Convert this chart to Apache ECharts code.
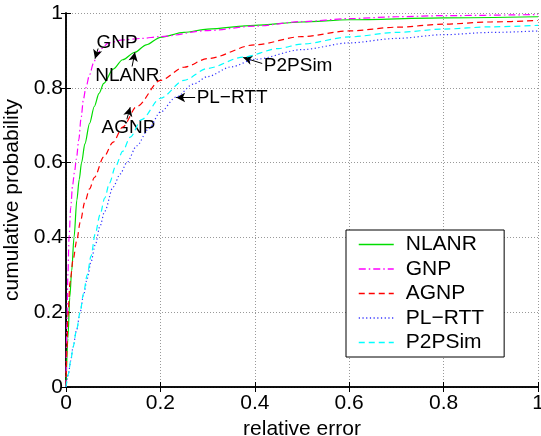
<!DOCTYPE html>
<html>
<head>
<meta charset="utf-8">
<script src="https://cdn.jsdelivr.net/npm/echarts@6/dist/echarts.min.js"></script>
<style>
html,body{margin:0;padding:0;background:#fff;}
#c{width:541px;height:436px;}
</style>
</head>
<body>
<div id="c"></div>
<script>
// ---- data ----
const seriesNames = ['NLANR', 'GNP', 'AGNP', 'PL\u2212RTT', 'P2PSim'];

const nlanrX = [0,0.004,0.008,0.012,0.017,0.023,0.028,0.033,0.04,0.05,0.06,0.07,0.08,0.1,0.12,0.146,0.17,0.2,0.25,0.3,0.4,0.5,0.6,0.8,1];
const nlanrY = [0,0.13,0.24,0.31,0.4,0.5,0.555,0.6,0.65,0.705,0.75,0.785,0.812,0.85,0.875,0.895,0.915,0.935,0.948,0.957,0.967,0.976,0.982,0.987,0.99];

const gnpX = [0,0.002,0.004,0.0065,0.01,0.014,0.018,0.022,0.027,0.032,0.037,0.042,0.05,0.058,0.065,0.075,0.09,0.12,0.16,0.2,0.3,0.4,0.5,0.6,0.7,0.8,1];
const gnpY = [0,0.17,0.3,0.4,0.48,0.54,0.575,0.61,0.66,0.72,0.77,0.8,0.835,0.865,0.885,0.905,0.92,0.928,0.932,0.937,0.953,0.965,0.977,0.985,0.99,0.993,0.996];

const agnpX = [0,0.002,0.004,0.0085,0.015,0.023,0.03,0.04,0.05,0.06,0.08,0.1,0.12,0.15,0.2,0.25,0.3,0.4,0.5,0.6,0.7,0.8,0.9,1];
const agnpY = [0,0.1,0.19,0.28,0.34,0.393,0.44,0.495,0.53,0.56,0.615,0.655,0.695,0.75,0.82,0.855,0.878,0.915,0.937,0.952,0.962,0.97,0.976,0.98];

const plrttX = [0,0.005,0.01,0.015,0.022,0.03,0.037,0.045,0.053,0.062,0.072,0.082,0.1,0.115,0.129,0.15,0.175,0.2,0.233,0.27,0.3,0.35,0.4,0.5,0.6,0.7,0.8,0.9,1];
const plrttY = [0,0.035,0.07,0.107,0.15,0.2,0.245,0.29,0.335,0.38,0.43,0.47,0.535,0.57,0.6,0.645,0.69,0.735,0.775,0.81,0.83,0.856,0.876,0.902,0.92,0.932,0.942,0.948,0.952];

const p2psimX = [0,0.005,0.01,0.015,0.022,0.03,0.037,0.045,0.053,0.062,0.072,0.082,0.092,0.105,0.12,0.136,0.16,0.2,0.25,0.3,0.375,0.45,0.5,0.6,0.7,0.8,0.9,1];
const p2psimY = [0,0.035,0.07,0.107,0.15,0.2,0.25,0.3,0.35,0.41,0.46,0.505,0.545,0.59,0.63,0.668,0.715,0.772,0.82,0.852,0.882,0.905,0.917,0.936,0.948,0.957,0.963,0.967];

const xTicks = [0, 0.2, 0.4, 0.6, 0.8, 1];
const yTicks = [0, 0.2, 0.4, 0.6, 0.8, 1];

// annotations (data-space anchors): text, arrow tail, arrow tip
const annText = ['GNP', 'NLANR', 'AGNP', 'PL\u2212RTT', 'P2PSim'];
const annLabelAt = [[0.108,0.921],[0.130,0.833],[0.1325,0.692],[0.2757,0.774],[0.418,0.86]];
const annTail = [[0.068,0.905],[0.14,0.857],[0.129,0.716],[0.2736,0.774],[0.4157,0.865]];
const annTip = [[0.0615,0.878],[0.146,0.895],[0.136,0.748],[0.2333,0.774],[0.3754,0.881]];
const annSide = ['inside','inside','inside','right','right'];

// ---- chart ----
const FONT = '"Liberation Sans", Arial, Helvetica, sans-serif';
const zip = (xs, ys) => xs.map((x, i) => [x, ys[i]]);
const seriesData = [zip(nlanrX, nlanrY), zip(gnpX, gnpY), zip(agnpX, agnpY), zip(plrttX, plrttY), zip(p2psimX, p2psimY)];
const colors = ['#00dd00', '#ff00ff', '#ff0000', '#3333ff', '#00ffff'];
const dashes = ['solid', [7, 3, 1.5, 3], [6, 4], [1.2, 2.5], [6, 4]];
const widths = [1.2, 1.2, 1.2, 1.2, 1.2];
// which series hosts which annotation
const annHost = {'GNP':1, 'NLANR':0, 'AGNP':2, 'PL\u2212RTT':3, 'P2PSim':4};

const series = seriesNames.map((name, i) => {
  const s = {
    name: name,
    type: 'line',
    data: seriesData[i],
    showSymbol: false,
    symbol: 'none',
    smooth: 0.3,
    smoothMonotone: 'x',
    color: colors[i],
    lineStyle: {color: colors[i], width: widths[i], type: dashes[i]},
    z: 3 + i,
    animation: false
  };
  const idx = annText.findIndex(t => annHost[t] === i);
  if (idx >= 0) {
    s.markLine = {
      silent: true,
      animation: false,
      symbol: ['none', 'arrow'],
      symbolSize: [7, 9],
      lineStyle: {color: '#000', width: 1, type: 'solid'},
      label: {show: false},
      emphasis: {disabled: true},
      data: [[{coord: annTail[idx]}, {coord: annTip[idx]}]]
    };
    s.markPoint = {
      silent: true,
      animation: false,
      symbol: 'circle',
      symbolSize: 1,
      itemStyle: {color: 'rgba(0,0,0,0)'},
      label: {
        show: true,
        position: annSide[idx],
        distance: 0,
        formatter: annText[idx],
        color: '#000',
        fontSize: 19,
        fontFamily: FONT
      },
      data: [{coord: annLabelAt[idx]}]
    };
  }
  return s;
});

const chart = echarts.init(document.getElementById('c'), null, {renderer: 'canvas'});
chart.setOption({
  animation: false,
  backgroundColor: '#fff',
  textStyle: {fontFamily: FONT},
  grid: {left: 66, right: 3, top: 13, bottom: 49, containLabel: false, outerBoundsMode: 'none'},
  legend: {
    data: seriesNames,
    orient: 'vertical',
    left: 346,
    top: 230,
    itemWidth: 35,
    itemHeight: 14,
    itemGap: 3.5,
    padding: [4, 20, 4, 12],
    backgroundColor: '#fff',
    borderColor: '#000',
    borderWidth: 1,
    borderRadius: 0,
    selectedMode: false,
    itemStyle: {opacity: 0, borderWidth: 0},
    lineStyle: {width: 1.5},
    textStyle: {fontSize: 21, color: '#000', fontFamily: FONT, padding: [0, 0, 0, 7]}
  },
  xAxis: [{
    type: 'value', min: xTicks[0], max: xTicks[xTicks.length - 1], interval: xTicks[1] - xTicks[0],
    position: 'bottom',
    name: 'relative error', nameLocation: 'middle', nameGap: 27,
    nameTextStyle: {fontSize: 21, color: '#000', fontFamily: FONT},
    axisLine: {show: true, lineStyle: {color: '#000', width: 1.5}},
    axisTick: {show: true, inside: true, length: 5, lineStyle: {color: '#000', width: 1}},
    axisLabel: {fontSize: 21, color: '#000', margin: 6, fontFamily: FONT, hideOverlap: false},
    splitLine: {show: true, lineStyle: {color: '#999', width: 1, type: [1, 2]}}
  }, {
    type: 'value', min: xTicks[0], max: xTicks[xTicks.length - 1], interval: xTicks[1] - xTicks[0],
    position: 'top',
    axisLine: {show: true, lineStyle: {color: '#000', width: 1.5}},
    axisTick: {show: true, inside: true, length: 5, lineStyle: {color: '#000', width: 1}},
    axisLabel: {show: false},
    splitLine: {show: false}
  }],
  yAxis: [{
    type: 'value', min: yTicks[0], max: yTicks[yTicks.length - 1], interval: yTicks[1] - yTicks[0],
    position: 'left',
    name: 'cumulative probability', nameLocation: 'middle', nameGap: 32,
    nameTextStyle: {fontSize: 21, color: '#000', fontFamily: FONT},
    axisLine: {show: true, lineStyle: {color: '#000', width: 1.5}},
    axisTick: {show: true, inside: true, length: 5, lineStyle: {color: '#000', width: 1}},
    axisLabel: {fontSize: 21, color: '#000', margin: 3, fontFamily: FONT, hideOverlap: false},
    splitLine: {show: true, lineStyle: {color: '#999', width: 1, type: [1, 2]}}
  }, {
    type: 'value', min: yTicks[0], max: yTicks[yTicks.length - 1], interval: yTicks[1] - yTicks[0],
    position: 'right',
    axisLine: {show: true, lineStyle: {color: '#000', width: 1.5}},
    axisTick: {show: true, inside: true, length: 5, lineStyle: {color: '#000', width: 1}},
    axisLabel: {show: false},
    splitLine: {show: false}
  }],
  series: series
});
</script>
</body>
</html>
